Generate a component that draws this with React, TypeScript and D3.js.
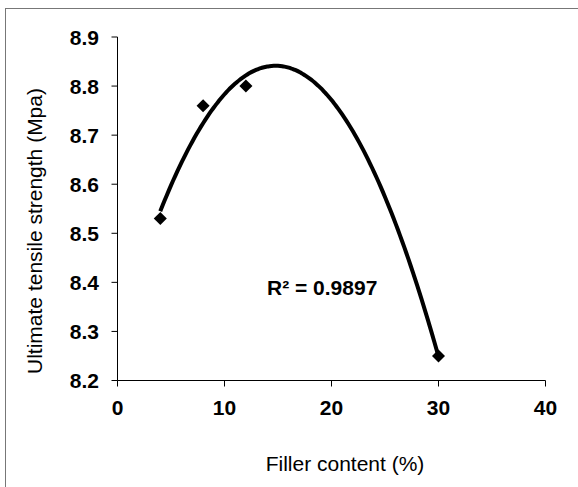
import React, { useRef, useEffect } from 'react';
import * as d3 from 'd3';

const fillerContent = [4, 8, 12, 30];
const tensileStrength = [8.53, 8.76, 8.8, 8.25];
const xTicks = [0, 10, 20, 30, 40];
const yTicks = [8.2, 8.3, 8.4, 8.5, 8.6, 8.7, 8.8, 8.9];
const rSquaredLabel = 'R² = 0.9897';

// least squares quadratic, like the spreadsheet's polynomial trendline
function fitQuadratic(xs: number[], ys: number[]) {
    const s = (f: (x: number, y: number) => number) => d3.sum(xs, (x, i) => f(x, ys[i]));
    const m = [
        [xs.length, s(x => x), s(x => x * x)],
        [s(x => x), s(x => x * x), s(x => x ** 3)],
        [s(x => x * x), s(x => x ** 3), s(x => x ** 4)],
    ];
    const v = [s((x, y) => y), s((x, y) => x * y), s((x, y) => x * x * y)];
    const det = (a: number[][]) =>
        a[0][0] * (a[1][1] * a[2][2] - a[1][2] * a[2][1]) -
        a[0][1] * (a[1][0] * a[2][2] - a[1][2] * a[2][0]) +
        a[0][2] * (a[1][0] * a[2][1] - a[1][1] * a[2][0]);
    const d = det(m);
    const coef = [0, 1, 2].map(k => det(m.map((row, i) => row.map((c, j) => (j === k ? v[i] : c)))) / d);
    return (x: number) => coef[0] + coef[1] * x + coef[2] * x * x;
}

export default function App() {
    const svgRef = useRef<SVGSVGElement>(null);

    useEffect(() => {
        const width = 578;
        const height = 487;
        const svg = d3.select(svgRef.current);
        svg.selectAll('*').remove();

        const x = d3.scaleLinear().domain([0, 40]).range([117.5, 545.5]);
        const y = d3.scaleLinear().domain([8.2, 8.9]).range([380.5, 37]);

        svg.append('rect')
            .attr('x', 5.5).attr('y', 8.5)
            .attr('width', width).attr('height', height)
            .attr('fill', 'none')
            .attr('stroke', '#777');

        const font = 'Liberation Sans, Arial, sans-serif';

        // y axis
        svg.append('line')
            .attr('x1', x(0)).attr('x2', x(0))
            .attr('y1', y(8.9)).attr('y2', y(8.2))
            .attr('stroke', '#000');
        svg.selectAll('.ytick')
            .data(yTicks)
            .enter()
            .append('line')
            .attr('x1', x(0) - 6).attr('x2', x(0))
            .attr('y1', d => y(d)).attr('y2', d => y(d))
            .attr('stroke', '#000');
        svg.selectAll('.ylabel')
            .data(yTicks)
            .enter()
            .append('text')
            .attr('x', 99)
            .attr('y', d => y(d))
            .attr('dy', '0.36em')
            .attr('text-anchor', 'end')
            .style('font-family', font)
            .style('font-size', '21px')
            .style('font-weight', 'bold')
            .text(d => d.toFixed(1));

        // x axis
        svg.append('line')
            .attr('x1', x(0)).attr('x2', x(40))
            .attr('y1', y(8.2)).attr('y2', y(8.2))
            .attr('stroke', '#000');
        svg.selectAll('.xtick')
            .data(xTicks)
            .enter()
            .append('line')
            .attr('x1', d => x(d)).attr('x2', d => x(d))
            .attr('y1', y(8.2)).attr('y2', y(8.2) + 6)
            .attr('stroke', '#000');
        svg.selectAll('.xlabel')
            .data(xTicks)
            .enter()
            .append('text')
            .attr('x', d => x(d))
            .attr('y', y(8.2) + 34)
            .attr('text-anchor', 'middle')
            .style('font-family', font)
            .style('font-size', '21px')
            .style('font-weight', 'bold')
            .text(d => d);

        // axis titles
        svg.append('text')
            .attr('transform', 'translate(42,231) rotate(-90)')
            .attr('text-anchor', 'middle')
            .style('font-family', font)
            .style('font-size', '21px')
            .text('Ultimate tensile strength (Mpa)');
        svg.append('text')
            .attr('x', 345)
            .attr('y', 471)
            .attr('text-anchor', 'middle')
            .style('font-family', font)
            .style('font-size', '21px')
            .text('Filler content (%)');

        // trendline
        const poly = fitQuadratic(fillerContent, tensileStrength);
        const xs = d3.range(d3.min(fillerContent)!, d3.max(fillerContent)! + 0.001, 0.2);
        const line = d3.line<number>().x(d => x(d)).y(d => y(poly(d))).curve(d3.curveMonotoneX);
        svg.append('path')
            .attr('d', line(xs))
            .attr('fill', 'none')
            .attr('stroke', '#000')
            .attr('stroke-width', 4);

        // markers
        const diamond = d3.symbol().type(d3.symbolSquare).size(85);
        svg.selectAll('.pt')
            .data(fillerContent)
            .enter()
            .append('path')
            .attr('d', diamond())
            .attr('transform', (d, i) => `translate(${x(d)},${y(tensileStrength[i])}) rotate(45)`)
            .attr('fill', '#000');

        svg.append('text')
            .attr('x', 267)
            .attr('y', 295)
            .style('font-family', font)
            .style('font-size', '21px')
            .style('font-weight', 'bold')
            .text(rSquaredLabel);
    }, []);

    return (
        <svg ref={svgRef} width={578} height={487} style={{ position: 'absolute', left: 0, top: 0 }}></svg>
    );
}
